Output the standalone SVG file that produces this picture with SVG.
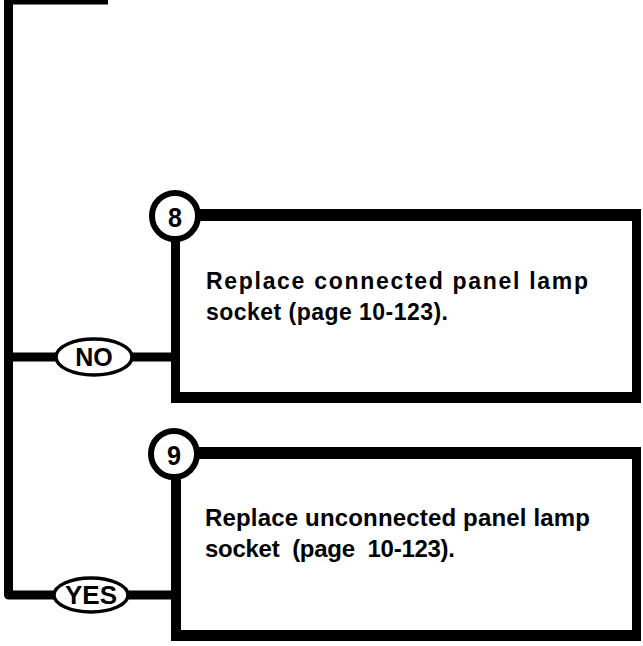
<svg xmlns="http://www.w3.org/2000/svg" width="643" height="646" viewBox="0 0 643 646">
<style>
.wire{fill:none;stroke:#000;stroke-width:9;stroke-linejoin:round}
.frame{fill:#000}
.inner{fill:#fff}
.num{fill:#fff;stroke:#000;stroke-width:6}
.oval{fill:#fff;stroke:#000;stroke-width:3.5}
.t{font-family:"Liberation Sans",Arial,sans-serif;font-weight:bold;fill:#000}
</style>
<rect width="643" height="646" fill="#fff"/>
<g id="connectors">
<path class="wire" d="M108,0 H8.5 V595 H55"/>
<line class="wire" x1="8.5" y1="357" x2="57" y2="357"/>
<line class="wire" x1="131" y1="357" x2="176" y2="357"/>
<line class="wire" x1="127" y1="595" x2="176" y2="595"/>
</g>
<g id="node-no">
<ellipse class="oval" cx="94" cy="357" rx="38" ry="18"/>
<text class="t" x="94" y="366" font-size="25" text-anchor="middle">NO</text>
</g>
<g id="node-yes">
<ellipse class="oval" cx="91" cy="595" rx="37" ry="17"/>
<text class="t" x="91" y="604" font-size="25" text-anchor="middle" textLength="52" lengthAdjust="spacingAndGlyphs">YES</text>
</g>
<g id="node-8">
<rect class="frame" x="171" y="209" width="470" height="194"/>
<rect class="inner" x="180" y="221" width="452" height="171"/>
<circle class="num" cx="175" cy="216" r="23"/>
<text class="t" x="175" y="227" font-size="28" text-anchor="middle" textLength="14" lengthAdjust="spacingAndGlyphs">8</text>
<text class="t" x="206" y="289" font-size="23" textLength="382" lengthAdjust="spacing">Replace connected panel lamp</text>
<text class="t" x="206" y="320" font-size="23" textLength="242" lengthAdjust="spacing">socket (page 10-123).</text>
</g>
<g id="node-9">
<rect class="frame" x="171" y="447" width="470" height="194"/>
<rect class="inner" x="181" y="459" width="451" height="171"/>
<circle class="num" cx="174" cy="454" r="23"/>
<text class="t" x="174" y="465" font-size="28" text-anchor="middle" textLength="14" lengthAdjust="spacingAndGlyphs">9</text>
<text class="t" x="205" y="526" font-size="24" textLength="385" lengthAdjust="spacing">Replace unconnected panel lamp</text>
<text class="t" x="205" y="557" font-size="24" xml:space="preserve" textLength="250" lengthAdjust="spacing">socket  (page  10-123).</text>
</g>
</svg>
